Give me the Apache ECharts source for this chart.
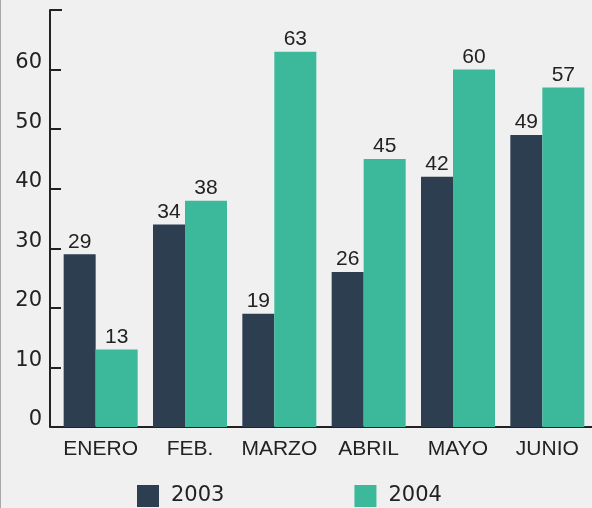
<!DOCTYPE html>
<html>
<head>
<meta charset="utf-8">
<script src="https://cdn.jsdelivr.net/npm/echarts@6/dist/echarts.min.js"></script>
<style>
  html, body { margin: 0; padding: 0; background: #f0f0f0; }
  #chart {
    width: 592px;
    height: 508px;
    box-sizing: border-box;
    border-left: 1px solid #a8a8a8;
  }
</style>
</head>
<body>
<div id="chart"></div>
<script>
const months = ['ENERO', 'FEB.', 'MARZO', 'ABRIL', 'MAYO', 'JUNIO']
const values2003 = [29, 34, 19, 26, 42, 49]
const values2004 = [13, 38, 63, 45, 60, 57]
const yTicks = { min: 0, max: 70, interval: 10 }

const dark = '#2c3e50'
const green = '#3bb99a'
const ink = '#222'
const sans = 'Arial, Liberation Sans, sans-serif'
const verdana = 'DejaVu Sans, Verdana, sans-serif'

// little cap on top of the y axis, pointing right like the other ticks
const axisCap = 'path://M-12,0L-12,0M0,0L12,0L12,2L0,2Z'

const chart = echarts.init(document.getElementById('chart'))

const dataLabel = {
  show: true,
  position: 'top',
  distance: 2,
  color: ink,
  fontFamily: sans,
  fontSize: 21
}

chart.setOption({
  backgroundColor: '#f0f0f0',
  animation: false,
  grid: { left: 55, top: 10, width: 538, height: 417 },
  legend: {
    left: 136,
    top: 485,
    padding: 0,
    itemWidth: 22,
    itemHeight: 22,
    itemGap: 130,
    icon: 'rect',
    textStyle: {
      color: ink,
      fontFamily: verdana,
      fontSize: 21,
      padding: [0, 0, 0, 7]
    },
    data: ['2003', '2004']
  },
  xAxis: {
    type: 'category',
    data: months,
    axisLine: { lineStyle: { color: ink, width: 2 } },
    axisTick: { show: false },
    axisLabel: {
      interval: 0,
      margin: 12,
      color: ink,
      fontFamily: sans,
      fontSize: 21
    }
  },
  yAxis: {
    type: 'value',
    min: yTicks.min,
    max: yTicks.max,
    interval: yTicks.interval,
    offset: 6,
    axisLine: {
      show: true,
      symbol: ['none', axisCap],
      symbolSize: [24, 2],
      lineStyle: { color: ink, width: 2 }
    },
    axisTick: { show: true, inside: true, length: 11, lineStyle: { color: ink, width: 2 } },
    splitLine: { show: false },
    axisLabel: {
      margin: 8,
      color: ink,
      fontFamily: verdana,
      fontSize: 21,
      verticalAlign: 'bottom',
      lineHeight: 14,
      formatter: v => (v >= yTicks.max ? '' : String(v))
    }
  },
  series: [
    {
      name: '2003',
      type: 'bar',
      data: values2003,
      barWidth: 32,
      barGap: '0%',
      itemStyle: { color: dark },
      label: dataLabel
    },
    {
      name: '2004',
      type: 'bar',
      data: values2004,
      barWidth: 42,
      barGap: '0%',
      itemStyle: { color: green },
      label: dataLabel
    }
  ]
})
</script>
</body>
</html>
